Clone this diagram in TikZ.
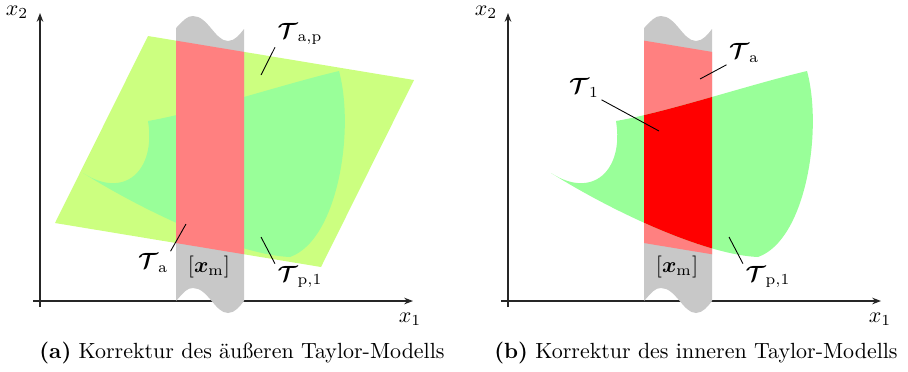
\documentclass[tikz,border=0pt]{standalone}
\usepackage{amsmath,amssymb}
\usepackage{bm}
\usepackage{xcolor}
\usepackage{tikz}
\usetikzlibrary{arrows.meta,positioning}
\definecolor{outerLime}{HTML}{CCFF80}
\definecolor{setGreen}{HTML}{99FF99}
\definecolor{boxRed}{HTML}{FF8080}
\definecolor{stripGray}{HTML}{C8C8C8}

% Streifen [x_m] mit Bruchkanten oben und unten
\newcommand{\stripPath}{(176,28) .. controls (184,20) and (187,16) .. (193,16)
  .. controls (208,16) and (215,41) .. (228,41)
  .. controls (235,41) and (240,34) .. (244,29) -- (244,301)
  .. controls (240,306) and (235,313) .. (228,313)
  .. controls (215,313) and (208,288) .. (193,288)
  .. controls (187,288) and (184,292) .. (176,301) -- cycle}
\newcommand{\outerPath}{(148,36) -- (414,80) -- (321,267) -- (55,223) -- cycle}
\newcommand{\setPath}{(83,173) .. controls (150,215) and (240,255) .. (290,257)
  .. controls (338,240) and (355,130) .. (339,71)
  .. controls (280,85) and (200,112) .. (148,121)
  .. controls (156,170) and (125,200) .. (83,173) -- cycle}

\begin{document}
\begin{tikzpicture}[
    x=0.016cm,y=-0.016cm,
    >={Stealth[length=4pt,width=3pt]},
    axis/.style={->,line width=0.5pt,black!85},
    leader/.style={line width=0.4pt,black},
    lab/.style={inner sep=1pt},
    captext/.style={font=\normalsize}
  ]
  \useasboundingbox (0,0) rectangle (908,371);

  %% (a) aeusseres Taylor-Modell
  \fill[outerLime] \outerPath;
  \fill[setGreen] \setPath;
  \draw[axis] (33,301) -- (413,301);
  \draw[axis] (40,307) -- (40,13);
  \fill[stripGray] \stripPath;
  \begin{scope}
    \clip (176,0) rectangle (244,371);
    \fill[boxRed] \outerPath;
  \end{scope}

  \node (xa2) at (17,12) {$x_2$};
  \node (xa1) at (410,319) {$x_1$};
  \node[lab] (Tap) at (300,34) {$\boldsymbol{\mathcal{T}}_{\mathrm{a,p}}$};
  \node[lab] (Ta)  at (153,263) {$\boldsymbol{\mathcal{T}}_{\mathrm{a}}$};
  \node[lab] (Tp1) at (300,277) {$\boldsymbol{\mathcal{T}}_{\mathrm{p,1}}$};
  \node (xma) at (209,267) {$[\boldsymbol{x}_{\mathrm{m}}]$};
  \coordinate (tap) at (261,75);
  \coordinate (ta)  at (186,224);
  \coordinate (tp1) at (261,237);
  \draw[leader] (Tap.south west) -- (tap);
  \draw[leader] (Ta.north east) -- (ta);
  \draw[leader] (Tp1.north west) -- (tp1);

  \node[captext] (capa) at (242,353) {\textbf{(a)} Korrektur des äußeren Taylor-Modells};

  %% (b) inneres Taylor-Modell
  \begin{scope}[shift={(468,0)}]
    \draw[axis] (33,301) -- (413,301);
    \draw[axis] (40,307) -- (40,13);
    \fill[stripGray] \stripPath;
    \begin{scope}
      \clip (176,0) rectangle (244,371);
      \fill[boxRed] \outerPath;
    \end{scope}
    \fill[setGreen] \setPath;
    \begin{scope}
      \clip (176,0) rectangle (244,371);
      \fill[red] \setPath;
    \end{scope}

    \node (xb2) at (18,12) {$x_2$};
    \node (xb1) at (412,319) {$x_1$};
    \node[lab] (Tb)  at (276,53) {$\boldsymbol{\mathcal{T}}_{\mathrm{a}}$};
    \node[lab] (T1)  at (116,88) {$\boldsymbol{\mathcal{T}}_{1}$};
    \node[lab] (Tbp) at (300,277) {$\boldsymbol{\mathcal{T}}_{\mathrm{p,1}}$};
    \node (xmb) at (209,267) {$[\boldsymbol{x}_{\mathrm{m}}]$};
    \coordinate (tb)  at (232,79);
    \coordinate (t1)  at (191,131);
    \coordinate (tbp) at (261,237);
    \draw[leader] (Tb.south west) -- (tb);
    \draw[leader] (T1.south east) -- (t1);
    \draw[leader] (Tbp.north west) -- (tbp);
  \end{scope}

  \node[captext] (capb) at (696,353) {\textbf{(b)} Korrektur des inneren Taylor-Modells};
\end{tikzpicture}
\end{document}
